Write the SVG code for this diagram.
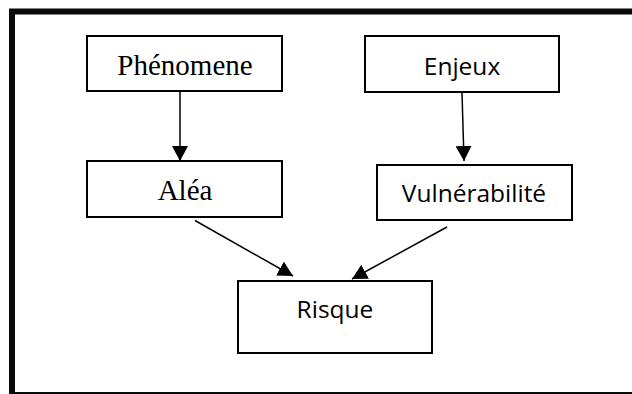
<svg xmlns="http://www.w3.org/2000/svg" width="632" height="394" viewBox="0 0 632 394">
<defs>
<style>
.box{fill:#fff;stroke:#000;stroke-width:2}
.serif{font-family:"Liberation Serif","Times New Roman",serif;font-size:29px;fill:#000;text-anchor:middle}
.sans{font-family:"Open Sans","Liberation Sans",sans-serif;font-size:24.5px;fill:#000;text-anchor:middle}
.conn{stroke:#000;stroke-width:1.5;fill:none;marker-end:url(#arrow)}
</style>
<marker id="arrow" markerUnits="userSpaceOnUse" markerWidth="15" markerHeight="16" refX="15" refY="8" orient="auto" viewBox="0 0 15 16">
<path d="M0,0 L15,8 L0,16 z" fill="#000"/>
</marker>
</defs>
<rect x="0" y="0" width="632" height="394" fill="#fff"/>
<rect x="12" y="11.5" width="640" height="383.5" fill="none" stroke="#0a0a0a" stroke-width="6"/>
<g id="connectors">
<line class="conn" x1="180" y1="91" x2="180" y2="161"/>
<line class="conn" x1="462" y1="93" x2="464" y2="161"/>
<line class="conn" x1="195" y1="220.5" x2="293" y2="276"/>
<line class="conn" x1="447" y1="227" x2="352" y2="279"/>
</g>
<g id="phenomene">
<rect class="box" x="87" y="36" width="195" height="55"/>
<text class="serif" x="185" y="75">Phénomene</text>
</g>
<g id="enjeux">
<rect class="box" x="365" y="36" width="194" height="56"/>
<text class="sans" x="462" y="75">Enjeux</text>
</g>
<g id="alea">
<rect class="box" x="87" y="161" width="195" height="56"/>
<text class="serif" x="185" y="200">Aléa</text>
</g>
<g id="vulnerabilite">
<rect class="box" x="377" y="165" width="195" height="55"/>
<text class="sans" x="474" y="202">Vulnérabilité</text>
</g>
<g id="risque">
<rect class="box" x="238" y="281" width="194" height="72"/>
<text class="sans" x="335" y="318">Risque</text>
</g>
</svg>
